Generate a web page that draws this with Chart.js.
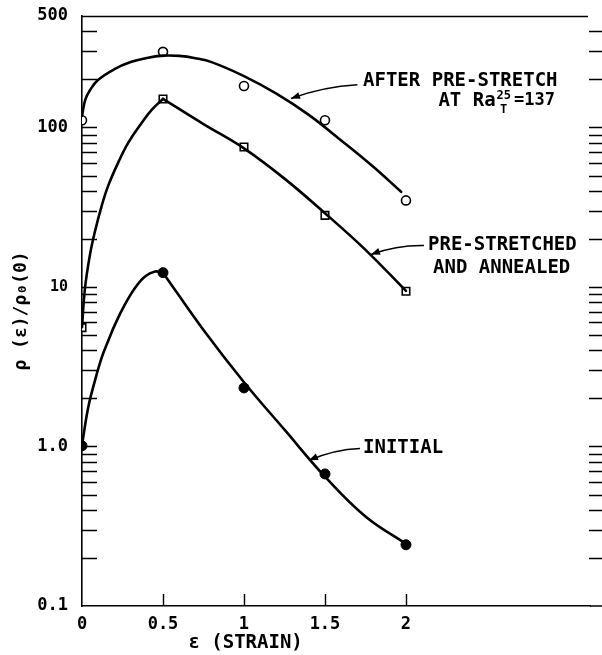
<!DOCTYPE html>
<html><head><meta charset="utf-8">
<script src="https://cdn.jsdelivr.net/npm/chart.js@4.4.0/dist/chart.umd.min.js"></script>
<style>html,body{margin:0;padding:0;background:#fff;}#wrap{width:602px;height:655px;}</style>
</head><body><div id="wrap"><canvas id="c" width="602" height="655"></canvas></div>
<script>
// ---- data ----
const strain = [0, 0.5, 1, 1.5, 2];
const afterPreStretch = [111, 298, 182, 111, 34.9];
const preStretchedAnnealed = [5.56, 151, 75.5, 28.1, 9.4];
const initial = [1.01, 12.3, 2.33, 0.673, 0.242];

// faired curves
const afterCurveX = [0, 0.02, 0.05, 0.1, 0.2, 0.3, 0.4, 0.5, 0.6, 0.7, 0.8, 1.0, 1.2, 1.4, 1.6, 1.8, 1.97];
const afterCurveY = [118, 149, 172, 199, 232, 257, 273, 282, 281, 272, 257, 210, 163, 120, 83, 56.5, 39.5];
const annealedRiseX = [0, 0.0185, 0.049, 0.080, 0.122, 0.162, 0.224, 0.286, 0.369, 0.430, 0.5];
const annealedRiseY = [5.6, 9.86, 15.9, 22.3, 32.4, 43.2, 60.4, 80.4, 107, 129, 151];
const annealedFallX = [0.5, 0.75, 1.0, 1.25, 1.5, 1.75, 2.0];
const annealedFallY = [151, 105, 74, 47.8, 29, 17.1, 9.45];
const initialRiseX = [0, 0.008, 0.039, 0.080, 0.122, 0.162, 0.204, 0.265, 0.327, 0.389, 0.451, 0.5];
const initialRiseY = [1.0, 1.15, 1.77, 2.59, 3.62, 4.60, 5.83, 7.77, 9.86, 11.65, 12.5, 12.3];
const initialFallX = [0.5, 0.75, 1.0, 1.25, 1.5, 1.75, 2.0];
const initialFallY = [12.3, 5.37, 2.53, 1.275, 0.647, 0.364, 0.245];

const xTickValues = [0, 0.5, 1, 1.5, 2];
const xTickLabels = ['0', '0.5', '1', '1.5', '2'];
const yTickValues = [0.1, 1, 10, 100, 500];
const yTickLabels = ['0.1', '1.0', '10', '100', '500'];
const xTitle = 'ε (STRAIN)';
const yTitle = 'ρ (ε)/ρ₀(0)';

const FAMILY = "'DejaVu Sans Mono', monospace";
const zip = (xs, ys) => xs.map((v, i) => ({x: v, y: ys[i]}));

const curve = (xs, ys) => ({
  data: zip(xs, ys), borderColor: '#000', borderWidth: 2.6, pointRadius: 0,
  tension: 0.4, fill: false
});

function leader(ctx, x1, y1, x2, y2, bend) {
  const cx = (x1 + x2) / 2, cy = (y1 + y2) / 2 + bend;
  ctx.beginPath();
  ctx.moveTo(x1, y1);
  ctx.quadraticCurveTo(cx, cy, x2, y2);
  ctx.lineWidth = 1.5;
  ctx.stroke();
  const ang = Math.atan2(y2 - cy, x2 - cx);
  const L = 9, W = 3.5;
  const bx = x2 - L * Math.cos(ang), by = y2 - L * Math.sin(ang);
  ctx.beginPath();
  ctx.moveTo(x2, y2);
  ctx.lineTo(bx + W * Math.sin(ang), by - W * Math.cos(ang));
  ctx.lineTo(bx - W * Math.sin(ang), by + W * Math.cos(ang));
  ctx.closePath();
  ctx.fill();
}

const decor = {
  id: 'decor',
  beforeDatasetsDraw(chart) {
    const {ctx, chartArea: a, scales: {x, y}} = chart;
    ctx.save();
    ctx.strokeStyle = '#000';
    ctx.lineWidth = 1.4;
    ctx.beginPath();
    ctx.moveTo(a.left, a.top + 0.5); ctx.lineTo(a.right - 2, a.top + 0.5);
    ctx.moveTo(a.right, a.bottom); ctx.lineTo(chart.width, a.bottom);
    for (let k = -1; k <= 2; k++) {
      for (let m = 1; m <= 9; m++) {
        const v = m * Math.pow(10, k);
        if (v <= y.min * 1.0001 || v >= y.max) continue;
        const py = Math.round(y.getPixelForValue(v)) + 0.5;
        ctx.moveTo(a.left, py); ctx.lineTo(a.left + 15, py);
        ctx.moveTo(a.right - 1, py); ctx.lineTo(a.right + 12, py);
      }
    }
    xTickValues.forEach(v => {
      if (v === 0) return;
      const px = Math.round(x.getPixelForValue(v)) + 0.5;
      ctx.moveTo(px, a.bottom); ctx.lineTo(px, a.bottom - 12);
    });
    ctx.stroke();
    ctx.restore();
  },
  afterDraw(chart) {
    const {ctx, scales: {x, y}} = chart;
    const X = v => x.getPixelForValue(v), Y = v => y.getPixelForValue(v);
    ctx.save();
    ctx.fillStyle = '#000'; ctx.strokeStyle = '#000';
    ctx.textBaseline = 'middle'; ctx.textAlign = 'left';
    // x title
    ctx.font = `bold 19px ${FAMILY}`;
    ctx.textAlign = 'center';
    ctx.fillText(xTitle, X(1.01), 643);
    ctx.textAlign = 'left';
    // AFTER PRE-STRETCH
    ctx.font = `bold 19px ${FAMILY}`;
    ctx.fillText('AFTER PRE-STRETCH', X(1.735), Y(196));
    let px = X(2.2), py = Y(147);
    ctx.fillText('AT Ra', px, py);
    px += ctx.measureText('AT Ra').width + 1;
    ctx.font = `bold 12px ${FAMILY}`;
    ctx.fillText('25', px, py - 5);
    ctx.fillText('T', px + 3.5, py + 9);
    px += ctx.measureText('25').width + 3;
    ctx.font = `bold 17px ${FAMILY}`;
    ctx.fillText('=137', px, py);
    leader(ctx, X(1.70), Y(185), X(1.29), Y(152), -5);
    // PRE-STRETCHED AND ANNEALED
    ctx.font = `bold 19px ${FAMILY}`;
    ctx.fillText('PRE-STRETCHED', X(2.136), Y(18.2));
    ctx.fillText('AND ANNEALED', X(2.167), Y(13.1));
    leader(ctx, X(2.111), Y(18.2), X(1.784), Y(16.0), -5);
    // INITIAL
    ctx.fillText('INITIAL', X(1.735), Y(0.972));
    leader(ctx, X(1.716), Y(0.972), X(1.401), Y(0.819), -5);
    ctx.restore();
  }
};

new Chart(document.getElementById('c'), {
  type: 'line',
  data: {
    datasets: [
      curve(afterCurveX, afterCurveY),
      curve(annealedRiseX, annealedRiseY),
      curve(annealedFallX, annealedFallY),
      curve(initialRiseX, initialRiseY),
      curve(initialFallX, initialFallY),
      {data: zip(strain, afterPreStretch), showLine: false, pointStyle: 'circle', pointRadius: 4.5,
       pointBackgroundColor: '#fff', pointBorderColor: '#000', pointBorderWidth: 1.6},
      {data: zip(strain, preStretchedAnnealed), showLine: false, pointStyle: 'rect', pointRadius: 5.3,
       pointBackgroundColor: '#fff', pointBorderColor: '#000', pointBorderWidth: 1.6},
      {data: zip(strain, initial), showLine: false, pointStyle: 'circle', pointRadius: 5,
       pointBackgroundColor: '#000', pointBorderColor: '#000', pointBorderWidth: 1}
    ]
  },
  options: {
    responsive: false, animation: false, devicePixelRatio: 1,
    layout: {padding: {left: 0, right: 12, top: 16, bottom: 0}},
    plugins: {legend: {display: false}, tooltip: {enabled: false}},
    elements: {line: {borderCapStyle: 'round', borderJoinStyle: 'round'}},
    scales: {
      x: {
        type: 'linear', min: 0, max: 3.136,
        afterBuildTicks: s => { s.ticks = xTickValues.map(v => ({value: v})); },
        afterFit: s => { s.height = 49; s.paddingLeft = 0; s.paddingRight = 0; },
        grid: {display: true, drawOnChartArea: false, drawTicks: false},
        border: {display: true, color: '#000', width: 1.6},
        ticks: {padding: 8, color: '#000', maxRotation: 0, autoSkip: false,
          font: {family: FAMILY, size: 17, weight: 'bold'},
          callback: v => xTickLabels[xTickValues.indexOf(v)]}
      },
      y: {
        type: 'logarithmic', min: 0.1, max: 500,
        afterBuildTicks: s => { s.ticks = yTickValues.map(v => ({value: v})); },
        afterFit: s => { s.width = 82; s.paddingTop = 0; s.paddingBottom = 0; },
        grid: {display: true, drawOnChartArea: false, drawTicks: false},
        border: {display: true, color: '#000', width: 1.6},
        ticks: {padding: 14, color: '#000', autoSkip: false,
          font: c => ({family: FAMILY, size: (c.tick && c.tick.value === 10) ? 15 : 17, weight: 'bold'}),
          callback: v => yTickLabels[yTickValues.indexOf(v)]},
        title: {display: true, text: yTitle, color: '#000', padding: {top: 11, bottom: 0},
          font: {family: FAMILY, size: 18, weight: 'bold'}}
      }
    }
  },
  plugins: [decor]
});
</script>
</body></html>
